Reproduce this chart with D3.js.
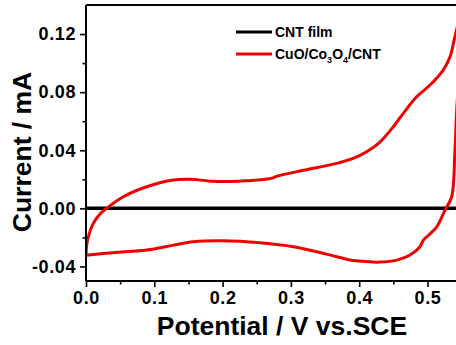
<!DOCTYPE html>
<html>
<head>
<meta charset="utf-8">
<script src="https://cdn.jsdelivr.net/npm/d3@7"></script>
<style>
  body { margin: 0; background: #fff; }
  svg { display: block; }
  text { font-family: Arial, "Liberation Sans", sans-serif; font-weight: bold; }
</style>
</head>
<body>
<svg id="chart" width="456" height="345"></svg>
<script>
// CNT film: flat line at zero
const cntFilm = [[0.0, 0.0], [0.55, 0.0]];

// CuO/Co3O4/CNT CV loop: anodic sweep (0 -> 0.55 V)
const cvForward = [
  [0.000, -0.0322], [0.001, -0.0253], [0.0034, -0.0196], [0.0107, -0.0103],
  [0.0205, -0.0039], [0.030, 0.000], [0.0546, 0.0080], [0.0889, 0.0149],
  [0.128, 0.0195], [0.152, 0.0200], [0.186, 0.0186], [0.211, 0.0185],
  [0.235, 0.0190], [0.270, 0.0205], [0.280, 0.0222], [0.318, 0.0262],
  [0.367, 0.0310], [0.391, 0.0344], [0.411, 0.0390], [0.430, 0.0455],
  [0.450, 0.0562], [0.4646, 0.0654], [0.484, 0.0768], [0.5037, 0.0849],
  [0.523, 0.0952], [0.533, 0.1044], [0.540, 0.1180], [0.545, 0.1270],
  [0.550, 0.1320]
];
// cathodic sweep (0.55 -> 0 V)
const cvReverse = [
  [0.5480, 0.1000], [0.543, 0.0700], [0.540, 0.0380], [0.5354, 0.0080],
  [0.5256, -0.0012], [0.5135, -0.0127], [0.4988, -0.0196], [0.4939, -0.0218],
  [0.489, -0.0264], [0.4744, -0.0321], [0.455, -0.0356], [0.430, -0.0370],
  [0.416, -0.0367], [0.391, -0.0359], [0.352, -0.0315], [0.3035, -0.0264],
  [0.2548, -0.0237], [0.201, -0.0223], [0.157, -0.0230], [0.128, -0.0253],
  [0.089, -0.0287], [0.040, -0.0305], [0.001, -0.0322]
];

const xTicks = [0.0, 0.1, 0.2, 0.3, 0.4, 0.5];
const xMinor = [0.05, 0.15, 0.25, 0.35, 0.45];
const yTicks = [-0.04, 0.00, 0.04, 0.08, 0.12];
const yMinor = [-0.02, 0.02, 0.06, 0.10];

const svg = d3.select("#chart");
const plotLeft = 86, plotTop = 5, plotBottom = 281;

const x = d3.scaleLinear().domain([0, 0.55]).range([plotLeft, plotLeft + 0.55 * 683]);
const y = d3.scaleLinear().domain([-0.05, 0.14]).range([plotBottom, plotTop]);

svg.append("defs").append("clipPath").attr("id", "plotClip")
  .append("rect")
  .attr("x", plotLeft).attr("y", plotTop)
  .attr("width", x(0.55) - plotLeft).attr("height", plotBottom - plotTop);

// data lines
const line = d3.line().x(d => x(d[0])).y(d => y(d[1]));
const plot = svg.append("g").attr("clip-path", "url(#plotClip)");

plot.append("path")
  .datum(cntFilm)
  .attr("d", line)
  .attr("fill", "none")
  .attr("stroke", "#000")
  .attr("stroke-width", 3.5);

plot.append("path")
  .datum(cvForward.concat(cvReverse))
  .attr("d", line.curve(d3.curveCatmullRom.alpha(0.5)))
  .attr("fill", "none")
  .attr("stroke", "#ee0000")
  .attr("stroke-width", 3)
  .attr("stroke-linejoin", "round");

// axes (plain hyphen for negatives, like the original)
const fmt1 = d => d.toFixed(1);
const fmt2 = d => d.toFixed(2);

const xAxis = svg.append("g")
  .attr("transform", `translate(0,${plotBottom})`)
  .call(d3.axisBottom(x).tickValues(xTicks).tickFormat(fmt1)
    .tickSize(6).tickPadding(4));
svg.append("g")
  .attr("transform", `translate(0,${plotBottom})`)
  .call(d3.axisBottom(x).tickValues(xMinor).tickFormat("").tickSize(3.5))
  .select(".domain").remove();

const yAxis = svg.append("g")
  .attr("transform", `translate(${plotLeft},0)`)
  .call(d3.axisLeft(y).tickValues(yTicks).tickFormat(fmt2)
    .tickSize(6).tickPadding(4));
svg.append("g")
  .attr("transform", `translate(${plotLeft},0)`)
  .call(d3.axisLeft(y).tickValues(yMinor).tickFormat("").tickSize(3.5))
  .select(".domain").remove();

xAxis.select(".domain").attr("d", `M${plotLeft},0H${x(0.55)}`).attr("stroke-width", 2);
yAxis.select(".domain").attr("d", `M0,${plotTop}V${plotBottom}`).attr("stroke-width", 2);
svg.selectAll(".tick line").attr("stroke-width", 1.6);
svg.selectAll(".tick text")
  .attr("font-size", 18)
  .attr("letter-spacing", 0.6)
  .attr("font-family", "Arial, 'Liberation Sans', sans-serif")
  .attr("font-weight", "bold")
  .attr("fill", "#000");

// top frame
svg.append("line")
  .attr("x1", plotLeft).attr("x2", x(0.55))
  .attr("y1", plotTop).attr("y2", plotTop)
  .attr("stroke", "#000").attr("stroke-width", 2);
svg.append("line")
  .attr("x1", x(0.55)).attr("x2", x(0.55))
  .attr("y1", plotTop).attr("y2", plotBottom)
  .attr("stroke", "#000").attr("stroke-width", 2);

// axis titles
svg.append("text")
  .attr("x", 282).attr("y", 335)
  .attr("text-anchor", "middle")
  .attr("font-size", 26.5)
  .text("Potential / V vs.SCE");

svg.append("text")
  .attr("transform", "translate(31,152) rotate(-90)")
  .attr("text-anchor", "middle")
  .attr("font-size", 26.5)
  .text("Current / mA");

// legend
const legend = svg.append("g");
legend.append("line")
  .attr("x1", 236).attr("x2", 272).attr("y1", 32).attr("y2", 32)
  .attr("stroke", "#000").attr("stroke-width", 3);
legend.append("text")
  .attr("x", 275).attr("y", 37)
  .attr("font-size", 14)
  .text("CNT film");

legend.append("line")
  .attr("x1", 236).attr("x2", 272).attr("y1", 54).attr("y2", 54)
  .attr("stroke", "#ee0000").attr("stroke-width", 3);
const lt = legend.append("text")
  .attr("x", 275).attr("y", 59)
  .attr("font-size", 14);
lt.append("tspan").text("CuO/Co");
lt.append("tspan").attr("font-size", 9).attr("dy", 4).text("3");
lt.append("tspan").attr("dy", -4).text("O");
lt.append("tspan").attr("font-size", 9).attr("dy", 4).text("4");
lt.append("tspan").attr("dy", -4).text("/CNT");
</script>
</body>
</html>
